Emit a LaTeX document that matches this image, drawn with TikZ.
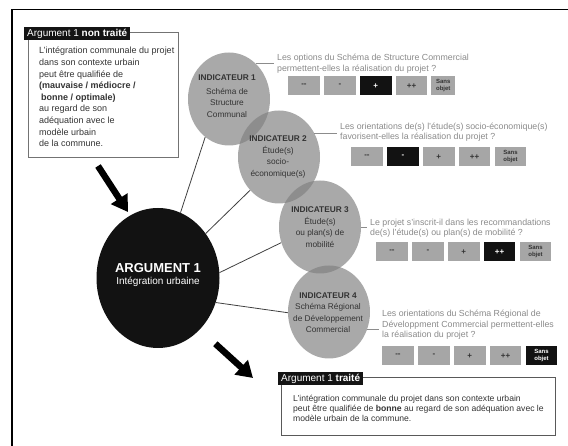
\documentclass[tikz,border=0pt]{standalone}
\usepackage{fontspec}
\setmainfont{Liberation Sans}
\usetikzlibrary{positioning,shapes.geometric,arrows.meta}
\definecolor{circgray}{HTML}{808080}
\definecolor{btngray}{HTML}{A6A6A6}
\definecolor{qgray}{HTML}{8A8A8A}
\definecolor{txtdark}{HTML}{333333}
\def\fsize#1#2{\fontsize{#1}{#2}\selectfont}
\tikzset{
	indic/.style={ellipse, fill=circgray, fill opacity=0.68, minimum width=82pt, minimum height=93pt, inner sep=0pt},
	indtxt/.style={align=center, text=txtdark, font=\fsize{8.3}{11.5}, inner sep=0pt},
	btn/.style={fill=btngray, minimum width=31.5pt, minimum height=19pt, inner sep=0pt, font=\fsize{8}{8}\bfseries, text=txtdark},
	btnon/.style={btn, fill=black!93, text=white},
	sansobj/.style={font=\fsize{6}{7}\bfseries, align=center},
	question/.style={anchor=west, align=left, text=qgray, font=\fsize{8.8}{10.5}, inner sep=0pt},
	link/.style={draw=black!75, line width=0.8pt},
	qlink/.style={draw=black!45, line width=0.8pt, shorten >=3pt},
	tag/.style={fill=black!92, text=white, font=\fsize{10}{12}, inner xsep=3pt, inner ysep=0pt, minimum height=12.5pt, anchor=north west},
	panel/.style={draw=black!55, line width=1pt, inner sep=0pt, anchor=north west},
	paneltxt/.style={anchor=north west, align=left, inner sep=0pt, text=txtdark},
	bigarrow/.style={line width=6.5pt, -{Triangle[length=16pt,width=19pt]}},
}
\begin{document}
\begin{tikzpicture}[x=1pt,y=-1pt]
	%%%%% START %%%%%
	\useasboundingbox (0,0) rectangle (568,446);
	\draw[line width=1.3pt] (12,446) -- (12,9.5) -- (568,9.5);
	
	% argument 1, non traite
	\node[panel, minimum width=150pt, minimum height=125pt] (box1) at (28,32) {};
	\node[tag] (tag1) at (24,27) {Argument 1 \textbf{non traité}};
	\node[paneltxt, font=\fsize{9}{11.6}] (txt1) at (39,47) {L'intégration communale du projet\\dans son contexte urbain\\peut être qualifiée de\\\textbf{(mauvaise / médiocre /}\\\hspace{2pt}\textbf{bonne / optimale)}\\au regard de son\\adéquation avec le\\modèle urbain\\de la commune.};
	
	% argument
	\node[ellipse, fill=black!93, minimum width=123pt, minimum height=140pt, inner sep=0pt] (arg) at (158,278) {};
	\node[align=center, text=white, inner sep=0pt, font=\fsize{10}{12}] (argtxt) at (158,275) {{\fsize{13}{13}\bfseries ARGUMENT 1}\\Intégration urbaine};
	
	% indicateurs
	\node[indic] (ind1) at (229,99) {};
	\node[indic] (ind2) at (279,157) {};
	\node[indic] (ind3) at (320,227) {};
	\node[indic] (ind4) at (329,312) {};
	\node[indtxt] (ind1t) at (227,96) {\textbf{INDICATEUR 1}\\[2pt]Schéma de\\Structure\\Communal};
	\node[indtxt] (ind2t) at (278,157) {\textbf{INDICATEUR 2}\\Étude(s)\\socio-\\économique(s)};
	\node[indtxt] (ind3t) at (320,227) {\textbf{INDICATEUR 3}\\Étude(s)\\ou plan(s) de\\mobilité};
	\node[indtxt] (ind4t) at (328,312.5) {\textbf{INDICATEUR 4}\\Schéma Régional\\de Développement\\Commercial};
	
	\draw[link] (arg.71) -- (ind1.238);
	\draw[link] (arg.43) -- (ind2.229);
	\draw[link] (arg.5) -- (ind3.202);
	\draw[link] (arg.-23) -- (ind4.181);
	
	% questions
	\node[question] (q1) at (277,63.5) {Les options du Schéma de Structure Commercial\\permettent-elles la réalisation du projet ?};
	\node[question] (q2) at (340,132) {Les orientations de(s) l'étude(s) socio-économique(s)\\favorisent-elles la réalisation du projet ?};
	\node[question] (q3) at (370,228) {Le projet s'inscrit-il dans les recommandations\\de(s) l'étude(s) ou plan(s) de mobilité ?};
	\node[question] (q4) at (382,325) {Les orientations du Schéma Régional de\\Développment Commercial permettent-elles\\la réalisation du projet ?};
	
	\draw[qlink] (ind1.53) -- (ind1.53 -| q1.west);
	\draw[qlink] (ind2.34) -- (ind2.34 -| q2.west);
	\draw[qlink] (ind3.-1) -- (ind3.-1 -| q3.west);
	\draw[qlink] (ind4.-25) -- (ind4.-25 -| q4.west);
	
	% boutons 1
	\node[btn, anchor=north west] (b11) at (288,76) {-{}-};
	\node[btn, right=4pt of b11] (b12) {-};
	\node[btnon, right=4pt of b12] (b13) {+};
	\node[btn, right=4pt of b13] (b14) {++};
	\node[btn, sansobj, minimum width=24pt, right=3.5pt of b14] (b15) {Sans\\objet};
	
	% boutons 2
	\node[btn, anchor=north west] (b21) at (351,147) {-{}-};
	\node[btnon, right=4pt of b21] (b22) {-};
	\node[btn, right=4pt of b22] (b23) {+};
	\node[btn, right=4pt of b23] (b24) {++};
	\node[btn, sansobj, right=4pt of b24] (b25) {Sans\\objet};
	
	% boutons 3
	\node[btn, anchor=north west] (b31) at (376,242) {-{}-};
	\node[btn, right=4pt of b31] (b32) {-};
	\node[btn, right=4pt of b32] (b33) {+};
	\node[btnon, right=4pt of b33] (b34) {++};
	\node[btn, sansobj, right=4pt of b34] (b35) {Sans\\objet};
	
	% boutons 4
	\node[btn, anchor=north west] (b41) at (382,346) {-{}-};
	\node[btn, right=4pt of b41] (b42) {-};
	\node[btn, right=4pt of b42] (b43) {+};
	\node[btn, right=4pt of b43] (b44) {++};
	\node[btnon, sansobj, right=4pt of b44] (b45) {Sans\\objet};
	
	% argument 1, traite
	\node[panel, draw=black!65, minimum width=274pt, minimum height=58pt] (box2) at (281,377) {};
	\node[tag] (tag2) at (278,372) {Argument 1 \textbf{traité}};
	\node[paneltxt, font=\fsize{8.6}{10}] (txt2) at (293,395) {L'intégration communale du projet dans son contexte urbain\\peut être qualifiée de \textbf{bonne} au regard de son adéquation avec le\\modèle urbain de la commune.};
	
	% fleches
	\coordinate (a1) at (98,166);
	\draw[bigarrow, shorten >=4pt] (a1) -- (arg.114);
	\coordinate (a2) at (253,378);
	\draw[bigarrow, shorten <=21pt] (arg.-51) -- (a2);
	%%%%% END %%%%%
\end{tikzpicture}
\end{document}
